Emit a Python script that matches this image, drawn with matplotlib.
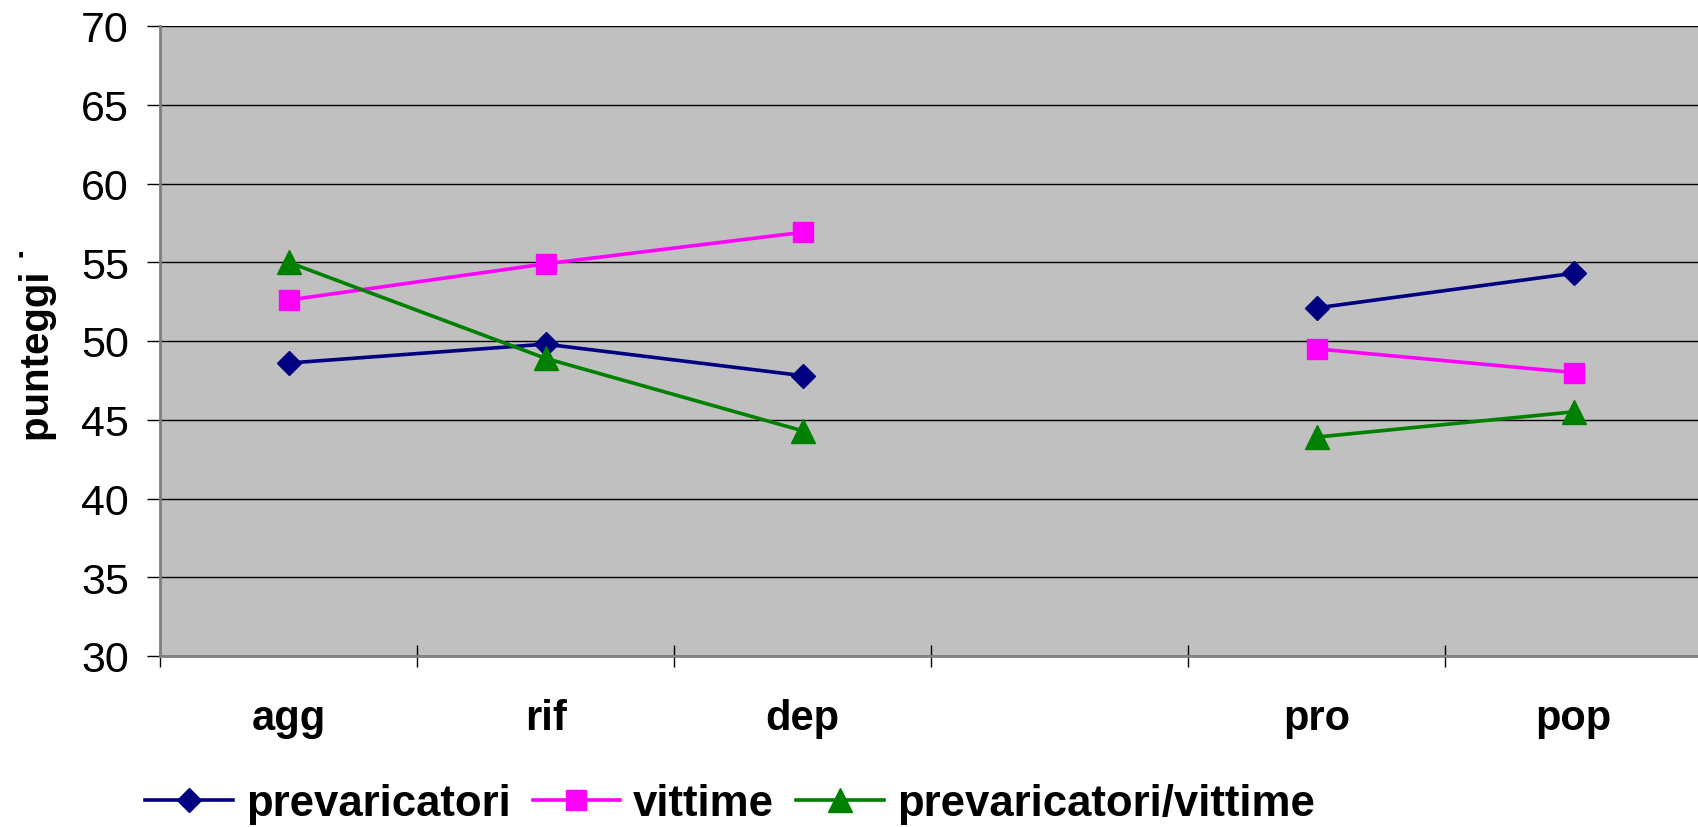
import numpy as np
import matplotlib
matplotlib.use("Agg")
import matplotlib.pyplot as plt
from matplotlib.ticker import FixedLocator, NullFormatter

plt.rcParams['font.family'] = ['Liberation Sans', 'DejaVu Sans']

# Scale categories (the empty slot separates the two groups)
categories = ['agg', 'rif', 'dep', '', 'pro', 'pop']

# Mean scores per group
prevaricatori = [48.6, 49.8, 47.8, np.nan, 52.1, 54.3]
vittime = [52.6, 54.9, 56.9, np.nan, 49.5, 48.0]
prevaricatori_vittime = [55.0, 48.9, 44.3, np.nan, 43.9, 45.5]

series_names = ['prevaricatori', 'vittime', 'prevaricatori/vittime']
y_ticks = [30, 35, 40, 45, 50, 55, 60, 65, 70]

W, H = 1698, 828
fig = plt.figure(figsize=(W / 100, H / 100), dpi=100)
ax = fig.add_axes([160 / W, 1 - 657 / H, 1 - 160 / W, 630 / H])
ax.set_facecolor('#C0C0C0')

x = np.arange(len(categories))
ax.plot(x, prevaricatori, color='#000080', lw=2.6, marker='D', ms=12.5,
        mec='#000080', mfc='#000080', label=series_names[0], zorder=3)
ax.plot(x, vittime, color='#FF00FF', lw=2.6, marker='s', ms=14,
        mec='#FF00FF', mfc='#FF00FF', label=series_names[1], zorder=3)
ax.plot(x, prevaricatori_vittime, color='#008000', lw=2.6, marker='^', ms=17,
        mec='#008000', mfc='#008000', label=series_names[2], zorder=3)

# Axes ranges
ax.set_ylim(30, 70)
ax.set_xlim(-0.5, -0.5 + 1538 / 257)

# Horizontal grid
ax.set_yticks(y_ticks)
ax.yaxis.grid(True, color='black', lw=1.0)
ax.set_axisbelow(True)
ax.tick_params(axis='y', direction='out', length=9.4, width=1.0,
               labelsize=31, pad=13, color='black')

# Category ticks at slot boundaries, labels centred in each slot
ax.xaxis.set_major_locator(FixedLocator(np.arange(-0.5, len(categories), 1.0)))
ax.xaxis.set_major_formatter(NullFormatter())
ax.xaxis.set_minor_locator(FixedLocator(x))
ax.set_xticklabels(categories, minor=True, fontsize=30, fontweight='bold')
ax.tick_params(axis='x', which='major', direction='inout', length=16, width=1.0,
               color='black')
ax.tick_params(axis='x', which='minor', length=0, pad=30)

for side in ('top', 'right'):
    ax.spines[side].set_visible(False)
for side in ('left', 'bottom'):
    ax.spines[side].set_color('#808080')
    ax.spines[side].set_linewidth(2.0)

ax.set_ylabel('punteggi ˙', fontsize=29, fontweight='bold')
ax.yaxis.set_label_coords(-0.0668, 0.497)

fig.legend(loc='center', bbox_to_anchor=(730 / W, 1 - 805 / H), ncol=3,
           frameon=False, prop={'size': 31.5, 'weight': 'bold'},
           handlelength=2.0, handletextpad=0.3, columnspacing=0.5,
           borderaxespad=0, borderpad=0)

fig.savefig('out.png', dpi=100, facecolor='white')
